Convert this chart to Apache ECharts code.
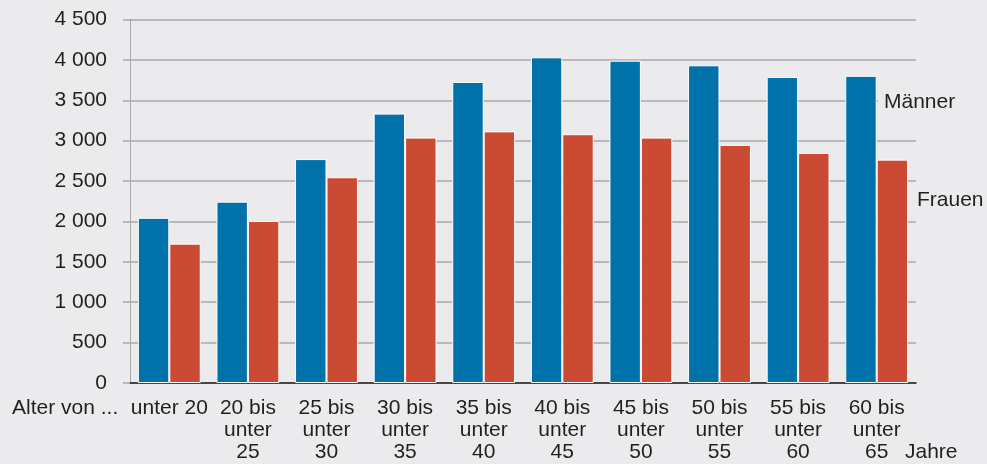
<!DOCTYPE html>
<html>
<head>
<meta charset="utf-8">
<script src="https://cdn.jsdelivr.net/npm/echarts@6/dist/echarts.min.js"></script>
<style>
html,body{margin:0;padding:0;background:#ebebee;}
#c{width:987px;height:464px;}
</style>
</head>
<body>
<div id="c"></div>
<script>
const categories = ["unter 20","20 bis\nunter\n25","25 bis\nunter\n30","30 bis\nunter\n35","35 bis\nunter\n40","40 bis\nunter\n45","45 bis\nunter\n50","50 bis\nunter\n55","55 bis\nunter\n60","60 bis\nunter\n65"];
const maenner = [2045, 2245, 2772, 3335, 3727, 4032, 3990, 3933, 3788, 3803];
const frauen = [1725, 2006, 2547, 3038, 3115, 3080, 3038, 2948, 2848, 2765];
const yTicks = {min: 0, max: 4500, interval: 500};
const seriesNames = ["Männer", "Frauen"];

const font = "'Liberation Sans', Arial, Helvetica, sans-serif";
const fs = 21;
const chart = echarts.init(document.getElementById('c'), null, {renderer: 'canvas'});
chart.setOption({
  backgroundColor: '#ebebee',
  animation: false,
  textStyle: {fontFamily: font},
  grid: {left: 130, right: 71, top: 19.5, bottom: 81, containLabel: false},
  xAxis: {
    type: 'category',
    data: categories,
    axisLine: {show: true, lineStyle: {color: '#231f20', width: 1.5}},
    axisTick: {show: false},
    axisLabel: {color: '#231f20', fontSize: fs, lineHeight: 22, margin: 14, interval: 0, fontFamily: font, verticalAlign: 'top'}
  },
  yAxis: {
    type: 'value',
    min: yTicks.min, max: yTicks.max, interval: yTicks.interval,
    axisLine: {show: true, lineStyle: {color: '#a8a8aa', width: 1}},
    axisTick: {show: true, length: 7, lineStyle: {color: '#a8a8aa', width: 1.5}},
    splitLine: {show: true, lineStyle: {color: '#a8a8aa', width: 1.5}},
    axisLabel: {color: '#231f20', fontSize: fs, margin: 23, fontFamily: font,
      formatter: v => String(v).replace(/\B(?=(\d{3})+(?!\d))/g, ' ')}
  },
  series: [
    {name: seriesNames[0], type: 'bar', data: maenner, barGap: '0%', barCategoryGap: '20%',
     itemStyle: {color: '#0071a9', borderColor: '#ffffff', borderWidth: 1}},
    {name: seriesNames[1], type: 'bar', data: frauen,
     itemStyle: {color: '#cb4a33', borderColor: '#ffffff', borderWidth: 1}}
  ],
  graphic: [
    {type: 'text', left: 12, top: 398, style: {text: 'Alter von ...', font: fs + 'px ' + font, fill: '#231f20'}},
    {type: 'text', left: 905, top: 442, style: {text: 'Jahre', font: fs + 'px ' + font, fill: '#231f20'}},
    {type: 'text', left: 878, top: 90, z: 100, style: {text: seriesNames[0], font: fs + 'px ' + font, fill: '#231f20',
      backgroundColor: '#ebebee', padding: [2, 30, 2, 6]}},
    {type: 'text', left: 917, top: 190, style: {text: seriesNames[1], font: fs + 'px ' + font, fill: '#231f20'}}
  ]
});
</script>
</body>
</html>
